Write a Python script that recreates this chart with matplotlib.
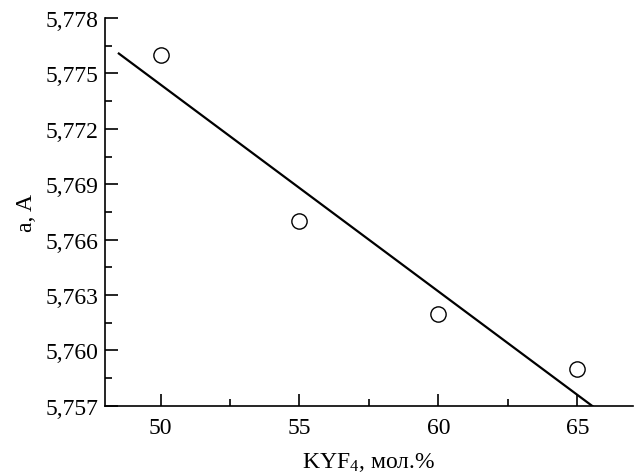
import numpy as np
import matplotlib
matplotlib.use("Agg")
import matplotlib.pyplot as plt
from matplotlib.ticker import MultipleLocator, FuncFormatter

plt.rcParams['font.family'] = ['Liberation Serif', 'DejaVu Serif']
plt.rcParams['mathtext.fontset'] = 'custom'
plt.rcParams['mathtext.rm'] = 'Liberation Serif'
plt.rcParams['mathtext.default'] = 'regular'

# KYF4 content (mol.%) vs lattice parameter a
kyf4 = [50, 55, 60, 65]
a_param = [5.776, 5.767, 5.762, 5.759]

# linear fit
k, b = np.polyfit(kyf4, a_param, 1)
x_fit = np.array([48.5, 66.0])
y_fit = k * x_fit + b

fig = plt.figure(figsize=(6.36, 4.77), dpi=100)
ax = fig.add_axes([0.165, 0.147, 0.83, 0.813])

ax.plot(x_fit, y_fit, color='black', lw=1.6)
ax.plot(kyf4, a_param, 'o', mfc='white', mec='black', ms=11, mew=1.0,
        clip_on=False)

ax.set_xlim(48, 67)
ax.set_ylim(5.757, 5.778)

ax.xaxis.set_major_locator(MultipleLocator(5))
ax.xaxis.set_minor_locator(MultipleLocator(2.5))
ax.yaxis.set_major_locator(MultipleLocator(0.003))
ax.yaxis.set_minor_locator(MultipleLocator(0.0015))
ax.yaxis.set_major_formatter(FuncFormatter(lambda v, p: f"{v:.3f}".replace('.', ',')))

for s in ['top', 'right']:
    ax.spines[s].set_visible(False)
for s in ['left', 'bottom']:
    ax.spines[s].set_linewidth(1.2)

ax.tick_params(which='major', direction='in', length=9, width=1.2, labelsize=17, pad=5)
ax.tick_params(which='minor', direction='in', length=5, width=1.2)
ax.tick_params(axis='x', which='major', pad=8)

ax.set_xlabel('KYF$_4$, мол.%', fontsize=17, labelpad=9)
ax.set_ylabel('a, A', fontsize=17, labelpad=6)

fig.savefig('out.png', dpi=100)
